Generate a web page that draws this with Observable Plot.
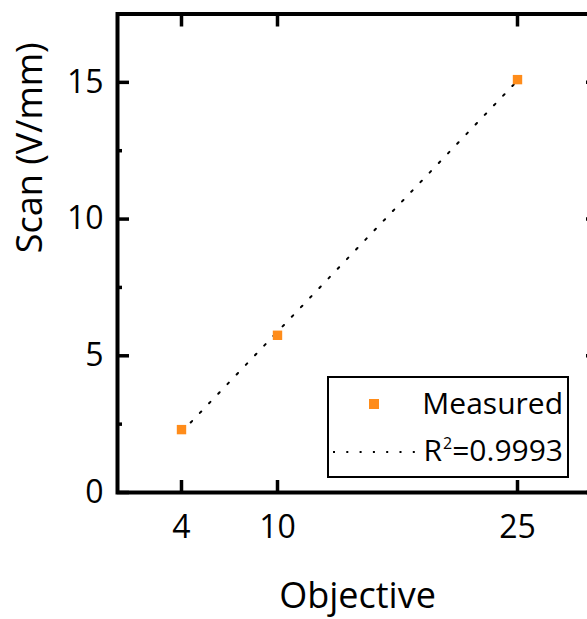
<!DOCTYPE html>
<html>
<head>
<meta charset="utf-8">
<script src="https://cdn.jsdelivr.net/npm/d3@7"></script>
<script src="https://cdn.jsdelivr.net/npm/@observablehq/plot@0.6"></script>
<style>
  html, body { margin: 0; padding: 0; overflow: hidden; background: #fff; }
  #wrap { position: relative; width: 587px; height: 619px; overflow: hidden; font-family: 'Open Sans', sans-serif; color: #000; }
  #wrap svg { display: block; max-width: none !important; width: 620px !important; height: 619px !important; }
  #legend { position: absolute; left: 327px; top: 376px; width: 242px; height: 102px; box-sizing: border-box; border: 2px solid #000; background: #fff; }
  #legend .lbl { position: absolute; right: 4px; font-size: 30px; line-height: 30px; white-space: nowrap; }
  #legend .lbl sup { font-size: 16px; position: relative; top: -12px; vertical-align: baseline; line-height: 0; margin-left: 1px; }
  #legend .sq { position: absolute; width: 10px; height: 10px; }
  #legend svg.key { position: absolute; width: 85px !important; height: 4px !important; }
</style>
</head>
<body>
<div id="wrap"></div>
<script>
// ---- data ----
const objective = [4, 10, 25];
const scan = [2.3, 5.75, 15.1];
const xTicks = [4, 10, 25];
const yTicks = [0, 5, 10, 15];
const yMinorTicks = [2.5, 7.5, 12.5];
const measuredName = "Measured";
const fitR2 = "0.9993";
const xLabel = "Objective";
const yLabel = "Scan (V/mm)";
const markerColor = "#ff8c1a";

const rows = objective.map((x, i) => ({x, y: scan[i]}));
const noText = () => "";

const chart = Plot.plot({
  width: 620,
  height: 619,
  marginLeft: 117,
  marginRight: 23,
  marginTop: 13.5,
  marginBottom: 127,
  style: {fontFamily: "'Open Sans', sans-serif", color: "#000", background: "#fff", overflow: "visible", maxWidth: "none"},
  x: {domain: [0, 30]},
  y: {domain: [0, 17.5]},
  marks: [
    Plot.linearRegressionY(rows, {x: "x", y: "y", ci: 0, stroke: "#000", strokeWidth: 2, strokeDasharray: "2 11.3"}),
    Plot.dot(rows, {x: "x", y: "y", symbol: "square", r: 5.3, fill: markerColor}),
    Plot.frame({stroke: "#000", strokeWidth: 4}),
    Plot.axisX(xTicks, {anchor: "bottom", tickSize: 0, tickPadding: 23, fontSize: 32, label: null}),
    Plot.axisX(xTicks, {anchor: "bottom", tickSize: -12, tickFormat: noText, strokeWidth: 3.5, label: null}),
    Plot.axisX(xTicks, {anchor: "top", tickSize: -12, tickFormat: noText, strokeWidth: 3.5, label: null}),
    Plot.axisY(yTicks, {anchor: "left", tickSize: 0, tickPadding: 14, fontSize: 32, label: null}),
    Plot.axisY(yTicks, {anchor: "left", tickSize: -12, tickFormat: noText, strokeWidth: 3.5, label: null}),
    Plot.axisY(yMinorTicks, {anchor: "left", tickSize: -5, tickFormat: noText, strokeWidth: 3.5, label: null}),
    Plot.axisY(yTicks, {anchor: "right", tickSize: -12, tickFormat: noText, strokeWidth: 3.5, label: null}),
    Plot.axisY(yMinorTicks, {anchor: "right", tickSize: -5, tickFormat: noText, strokeWidth: 3.5, label: null}),
    Plot.text([yLabel], {text: d => d, frameAnchor: "left", dx: -87, rotate: -90, fontSize: 36, fill: "#000"}),
    Plot.text([xLabel], {text: d => d, frameAnchor: "bottom", dy: 90, lineAnchor: "top", fontSize: 36, fill: "#000"})
  ]
});

const wrap = document.getElementById("wrap");
wrap.appendChild(chart);

// legend
const legend = document.createElement("div");
legend.id = "legend";
const sq = document.createElement("div");
sq.className = "sq";
sq.style.left = "40px"; sq.style.top = "21px"; sq.style.background = markerColor;
legend.appendChild(sq);
const l1 = document.createElement("div");
l1.className = "lbl"; l1.style.top = "10.4px"; l1.textContent = measuredName;
legend.appendChild(l1);
const ns = "http://www.w3.org/2000/svg";
const ls = document.createElementNS(ns, "svg");
ls.setAttribute("class", "key");
ls.setAttribute("width", 85); ls.setAttribute("height", 4);
ls.style.left = "4px"; ls.style.top = "72px";
const ln = document.createElementNS(ns, "line");
ln.setAttribute("x1", 0); ln.setAttribute("x2", 85); ln.setAttribute("y1", 2); ln.setAttribute("y2", 2);
ln.setAttribute("stroke", "#000"); ln.setAttribute("stroke-width", 2); ln.setAttribute("stroke-dasharray", "2 11.3");
ls.appendChild(ln);
legend.appendChild(ls);
const l2 = document.createElement("div");
l2.className = "lbl"; l2.style.top = "57.4px";
l2.append("R");
const sup = document.createElement("sup"); sup.textContent = "2";
l2.append(sup);
l2.append("=" + fitR2);
legend.appendChild(l2);
wrap.appendChild(legend);
</script>
</body>
</html>
